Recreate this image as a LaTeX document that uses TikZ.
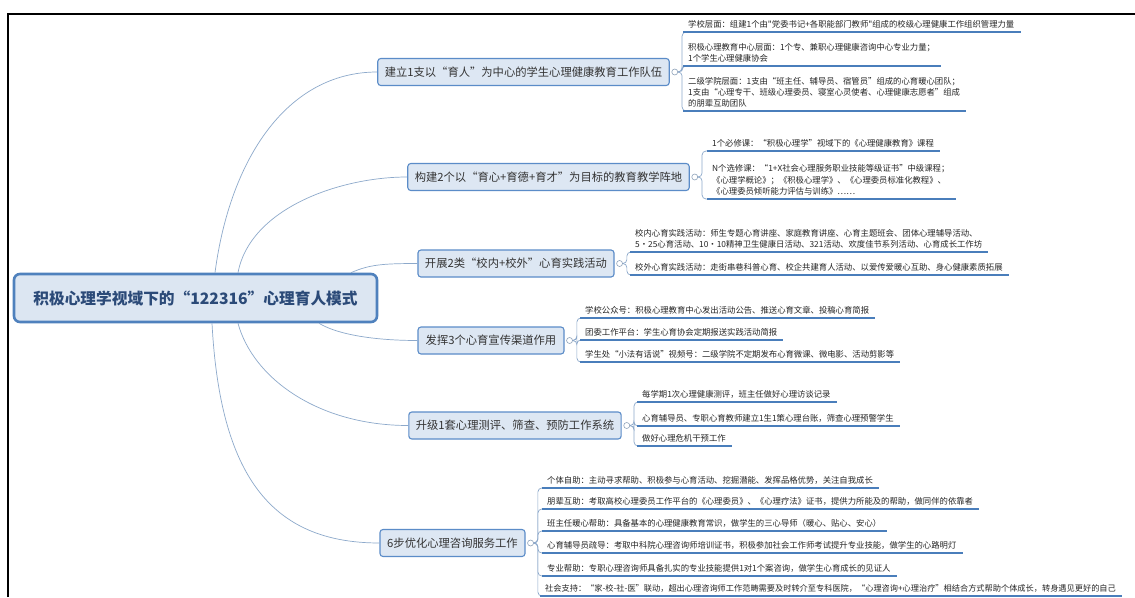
\documentclass[tikz,border=0pt]{standalone}
\usepackage{fontspec}
\newfontfamily\cjk{Noto Sans CJK SC}
\definecolor{rootfill}{HTML}{DCE6F2}
\definecolor{rootline}{HTML}{4F81BD}
\definecolor{roottext}{HTML}{2B4A78}
\definecolor{topfill}{HTML}{DDE7F3}
\definecolor{topline}{HTML}{5B8CC8}
\definecolor{toptext}{HTML}{333333}
\definecolor{leaftext}{HTML}{262626}
\definecolor{ulinecol}{HTML}{4A7EBB}
\definecolor{linkcol}{HTML}{8DA9CB}
\definecolor{foldcol}{HTML}{8FA3BA}
\begin{document}
\begin{tikzpicture}[x=1pt,y=-1pt,
  root/.style={draw=rootline, fill=rootfill, line width=2.6pt, rounded corners=6pt,
    minimum width=363pt, minimum height=48pt,
    font={\cjk\bfseries\fontsize{15.7}{18}\selectfont}, text=roottext},
  topic/.style={draw=topline, fill=topfill, line width=1.1pt, rounded corners=3pt,
    minimum height=27pt, inner xsep=7pt,
    font={\cjk\fontsize{11.3}{13}\selectfont}, text=toptext},
  fold/.style={circle, draw=foldcol, fill=white, line width=0.6pt, minimum size=6pt, inner sep=0pt},
  leaf/.style={anchor=south west, align=left, inner xsep=0pt, inner ysep=3.5pt,
    font={\cjk\fontsize{8.35}{11.3}\selectfont}, text=leaftext},
  uline/.style={draw=ulinecol, line width=1.6pt},
  link/.style={draw=linkcol, line width=0.7pt},
  brace/.style={link, rounded corners=4pt}
]
\useasboundingbox (0,0) rectangle (1135,597);
\fill[white] (0,0) rectangle (1135,597);
% frame
\draw[line width=2.4pt] (8,597) -- (8,14) -- (1135,14);

% root
\node[root] (root) at (195.5,298) {积极心理学视域下的“122316”心理育人模式};

% level 1
\node[topic, minimum width=287pt] (b1) at (523.5,72) {建立1支以“育人”为中心的学生心理健康教育工作队伍};
\node[topic, minimum width=281pt] (b2) at (548.5,177) {构建2个以“育心+育德+育才”为目标的教育教学阵地};
\node[topic, minimum width=196pt] (b3) at (516,263.5) {开展2类“校内+校外”心育实践活动};
\node[topic, minimum width=146pt] (b4) at (491,340.5) {发挥3个心育宣传渠道作用};
\node[topic, minimum width=210pt] (b5) at (515,425.5) {升级1套心理测评、筛查、预防工作系统};
\node[topic, minimum width=145pt] (b6) at (452.5,543) {6步优化心理咨询服务工作};

\foreach \b in {b1,b2,b3,b4,b5,b6}
  \node[fold] (\b c) at ([xshift=5pt]\b.east) {};

% root links
\draw[link] ([xshift=19.5pt]root.north) .. controls +(15,-114) and +(-90,0) .. (b1.west);
\draw[link] ([xshift=42.5pt]root.north) .. controls +(12,-64) and +(-68,0) .. (b2.west);
\draw[link] ([xshift=155.5pt]root.north) .. controls +(18,-8) and +(-35,0) .. (b3.west);
\draw[link] ([xshift=123.5pt]root.south) .. controls +(20,12) and +(-40,0) .. (b4.west);
\draw[link] ([xshift=42.5pt]root.south) .. controls +(15,55) and +(-90,0) .. (b5.west);
\draw[link] ([xshift=16.5pt]root.south) .. controls +(8,150) and +(-110,0) .. (b6.west);

% group 1
\node[leaf] (g1a) at (688,32) {学校层面：组建1个由"党委书记+各职能部门教师"组成的校级心理健康工作组织管理力量};
\node[leaf] (g1b) at (688,66) {积极心理教育中心层面：1个专、兼职心理健康咨询中心专业力量；\\1个学生心理健康协会};
\node[leaf] (g1c) at (688,111) {二级学院层面：1支由“班主任、辅导员、宿管员”组成的心育暖心团队；\\1支由“心理专干、班级心理委员、寝室心灵使者、心理健康志愿者”组成\\的朋辈互助团队};
% group 2
\node[leaf] (g2a) at (712,151) {1个必修课：“积极心理学”视域下的《心理健康教育》课程};
\node[leaf] (g2b) at (712,199) {N个选修课：“1+X社会心理服务职业技能等级证书”中级课程；\\《心理学概论》；《积极心理学》、《心理委员标准化教程》、\\《心理委员倾听能力评估与训练》……};
% group 3
\node[leaf] (g3a) at (635,252) {校内心育实践活动：师生专题心育讲座、家庭教育讲座、心育主题班会、团体心理辅导活动、\\5·25心育活动、10·10精神卫生健康日活动、321活动、欢度佳节系列活动、心育成长工作坊};
\node[leaf] (g3b) at (635,275) {校外心育实践活动：走街串巷科普心育、校企共建育人活动、以爱传爱暖心互助、身心健康素质拓展};
% group 4
\node[leaf] (g4a) at (585,318) {学校公众号：积极心理教育中心发出活动公告、推送心育文章、投稿心育简报};
\node[leaf] (g4b) at (585,340) {团委工作平台：学生心育协会定期报送实践活动简报};
\node[leaf] (g4c) at (585,362) {学生处“小法有话说”视频号：二级学院不定期发布心育微课、微电影、活动剪影等};
% group 5
\node[leaf] (g5a) at (642,402) {每学期1次心理健康测评，班主任做好心理访谈记录};
\node[leaf] (g5b) at (642,426) {心育辅导员、专职心育教师建立1生1策心理台账，筛查心理预警学生};
\node[leaf] (g5c) at (642,446) {做好心理危机干预工作};
% group 6
\node[leaf] (g6a) at (547,488) {个体自助：主动寻求帮助、积极参与心育活动、挖掘潜能、发挥品格优势，关注自我成长};
\node[leaf] (g6b) at (547,509) {朋辈互助：考取高校心理委员工作平台的《心理委员》、《心理疗法》证书，提供力所能及的帮助，做同伴的依靠者};
\node[leaf] (g6c) at (547,531) {班主任暖心帮助：具备基本的心理健康教育常识，做学生的三心导师（暖心、贴心、安心）};
\node[leaf] (g6d) at (547,553) {心育辅导员疏导：考取中科院心理咨询师培训证书，积极参加社会工作师考试提升专业技能，做学生的心路明灯};
\node[leaf] (g6e) at (547,576) {专业帮助：专职心理咨询师具备扎实的专业技能提供1对1个案咨询，做学生心育成长的见证人};
\node[leaf, font={\cjk\fontsize{8.2}{11.3}\selectfont}] (g6f) at (545,596) {社会支持：“家-校-社-医”联动，超出心理咨询师工作范畴需要及时转介至专科医院，“心理咨询+心理治疗”相结合方式帮助个体成长，转身遇见更好的自己};

% brackets and underlines
\foreach \p/\c in {b1c/g1a,b1c/g1b,b1c/g1c,b2c/g2a,b2c/g2b,b3c/g3a,b3c/g3b,
  b4c/g4a,b4c/g4b,b4c/g4c,b5c/g5a,b5c/g5b,b5c/g5c,
  b6c/g6a,b6c/g6b,b6c/g6c,b6c/g6d,b6c/g6e,b6c/g6f}{
  \coordinate (\c-u) at ([xshift=-5pt]\c.south west);
  \draw[brace] (\p.east) -- ++(4,0) |- (\c-u);
  \draw[uline] (\c-u) -- ([xshift=6pt]\c.south east);
}
\end{tikzpicture}
\end{document}
